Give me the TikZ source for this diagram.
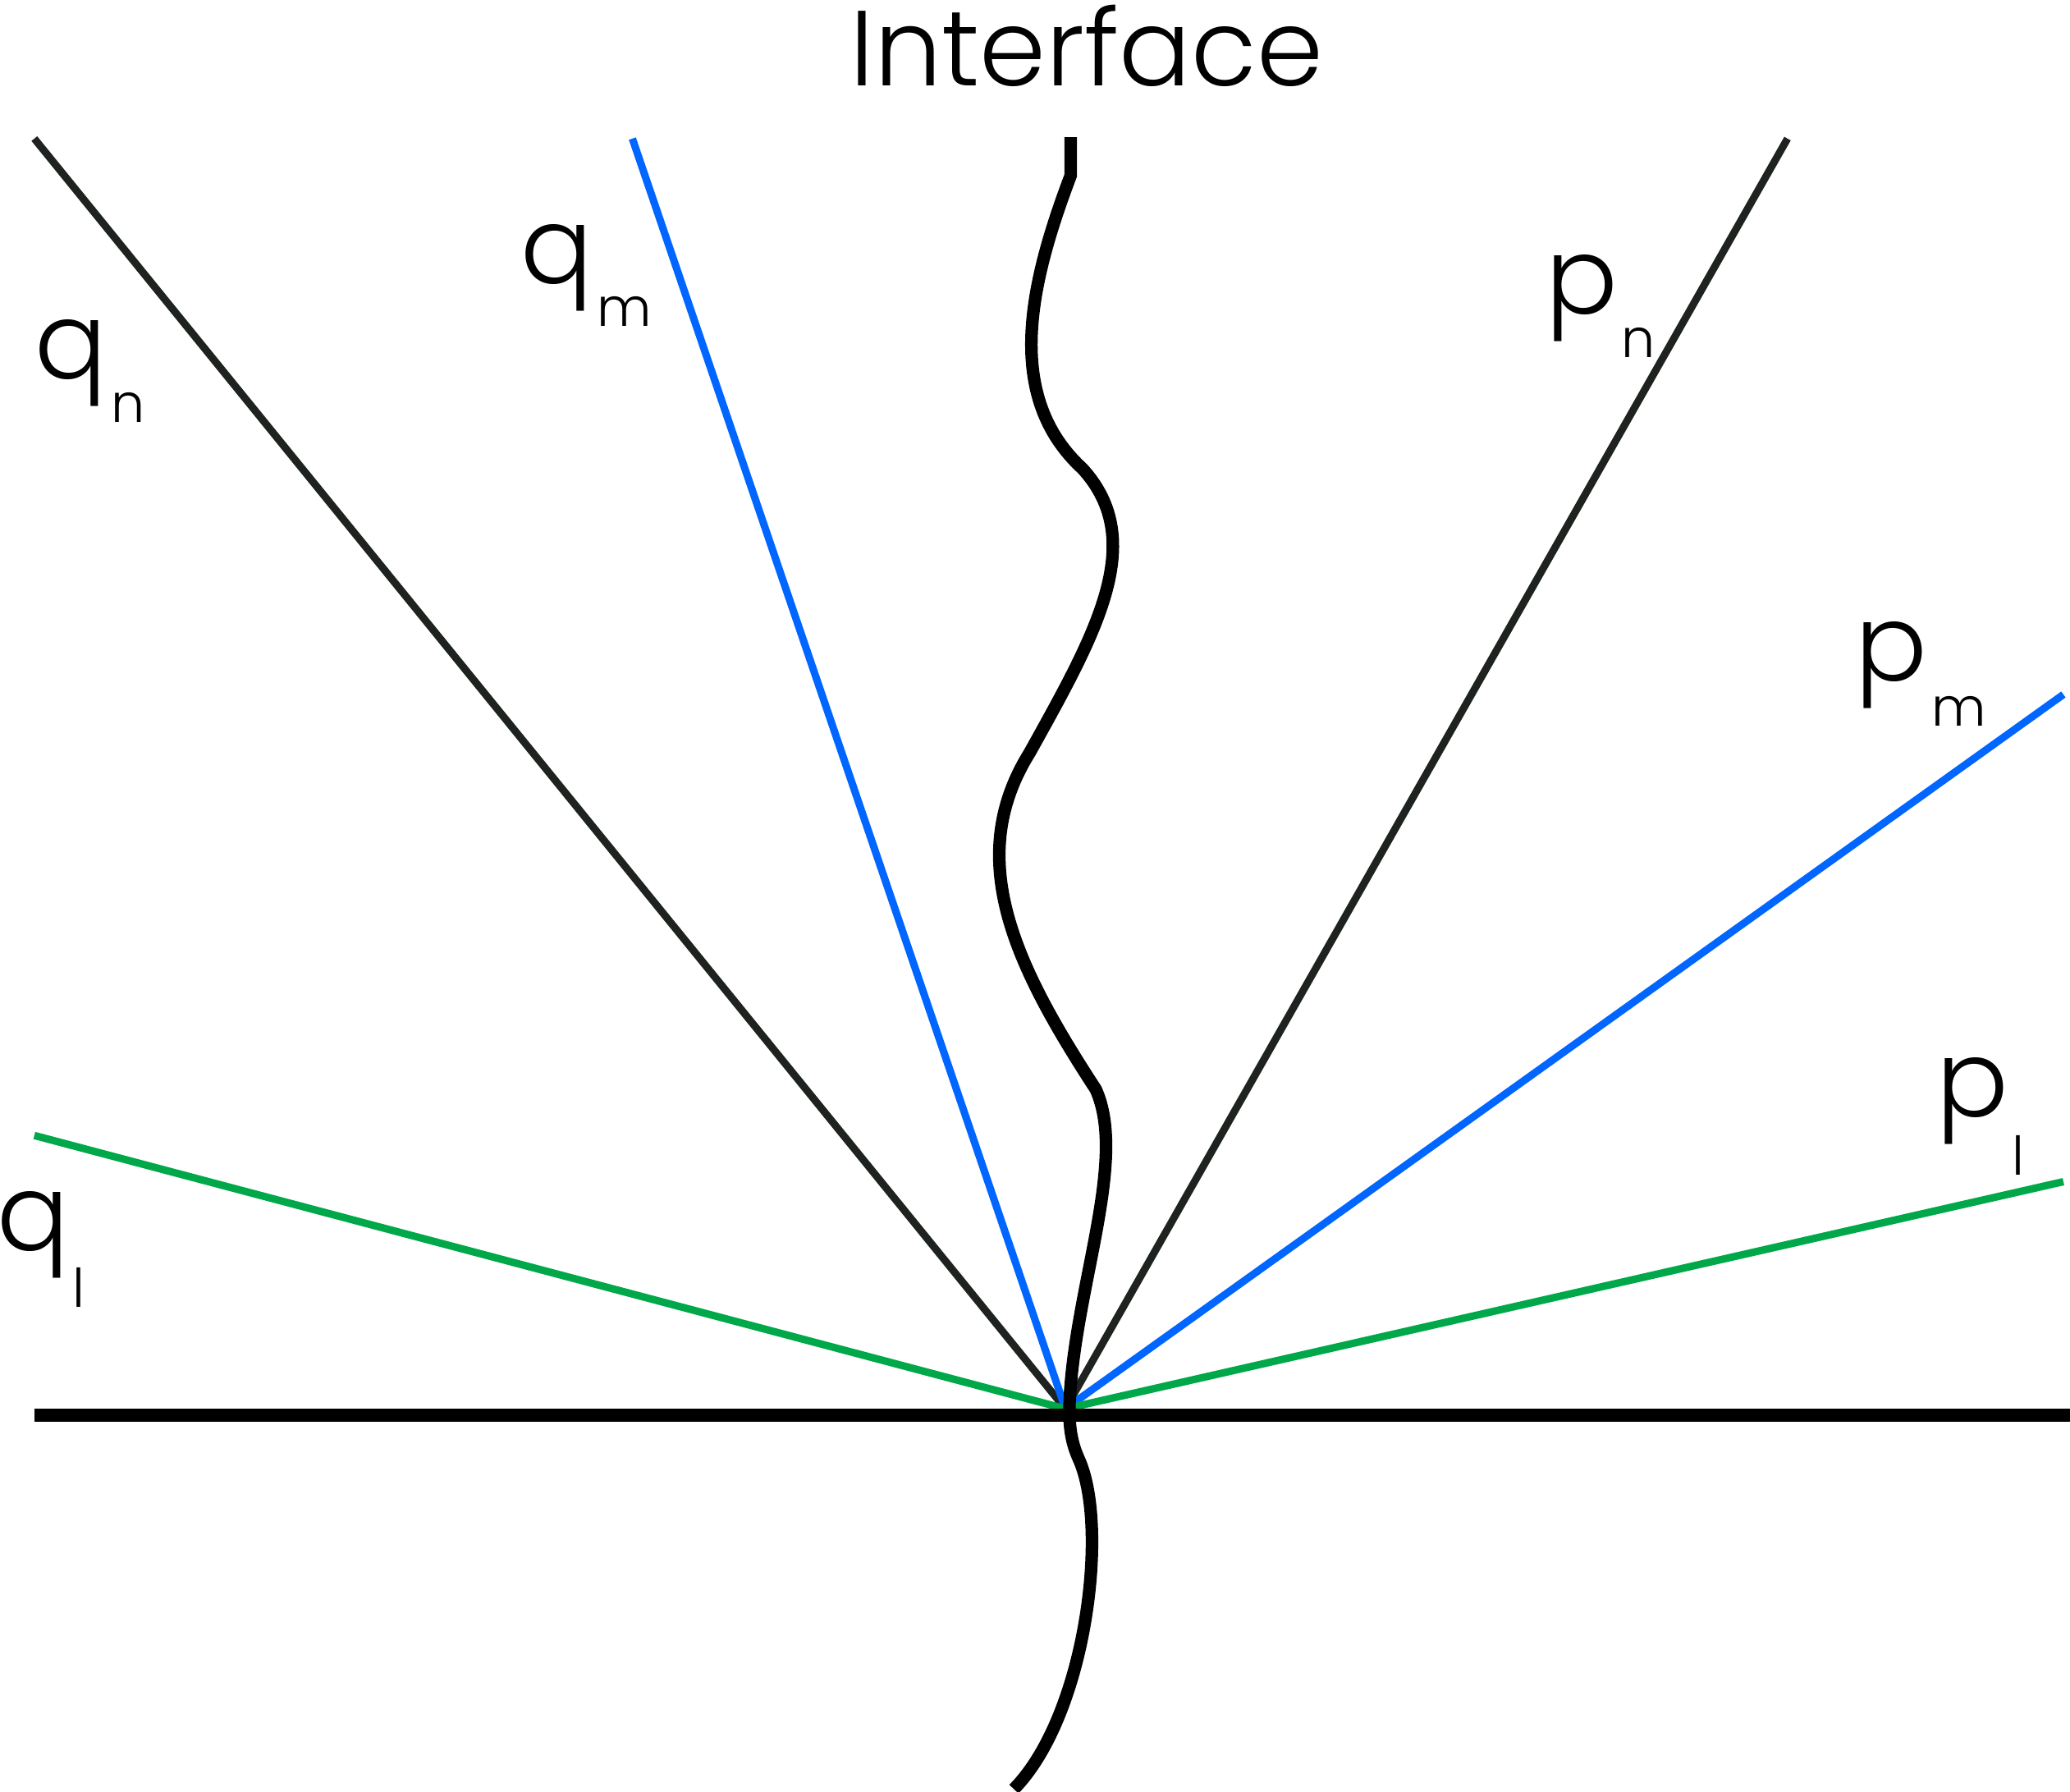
\documentclass[tikz,border=0pt]{standalone}
\usepackage{fontspec}
\setmainfont{Poppins Light}
\usepackage{xcolor}
\definecolor{raydark}{HTML}{1E231F}
\definecolor{rayblue}{HTML}{0066FF}
\definecolor{raygreen}{HTML}{00A84A}
\newcommand{\wvlabel}[3]{#1\hspace{0.03cm}\raisebox{-#3cm}{\fontsize{11.5pt}{12pt}\selectfont #2}}

\begin{document}
\begin{tikzpicture}[
  ray/.style={line width=1.6pt},
  wall/.style={line width=2.9pt},
  iface/.style={line width=2.7pt},
  lbl/.style={anchor=base west,inner sep=0pt,font=\fontsize{23pt}{26pt}\selectfont}
]
  \useasboundingbox (0,0) rectangle (15.68,13.57);
  \coordinate (O) at (8.07,2.90);
  \coordinate (qn) at (0.26,12.52);
  \coordinate (qm) at (4.79,12.52);
  \coordinate (pn) at (13.54,12.52);
  \coordinate (pm) at (15.63,8.31);
  \coordinate (pl) at (15.63,4.62);
  \coordinate (ql) at (0.26,4.97);
  \coordinate (wl) at (0.26,2.85);
  \coordinate (wr) at (15.68,2.85);
  \coordinate (it) at (8.11,12.53);
  \coordinate (ib) at (7.68,0.02);
  \node[lbl,anchor=base] (title) at (8.23,12.92) {Interface};
  \node[lbl] (lqn) at (0.26,10.70) {\wvlabel{q}{n}{0.33}};
  \node[lbl] (lqm) at (3.94,11.42) {\wvlabel{q}{m}{0.32}};
  \node[lbl] (lpn) at (11.70,11.19) {\wvlabel{p}{n}{0.33}};
  \node[lbl] (lpm) at (14.05,8.41) {\wvlabel{p}{m}{0.34}};
  \node[lbl] (lpl) at (14.66,5.11) {\wvlabel{p}{l}{0.44}};
  \node[lbl] (lql) at (-0.03,4.10) {\wvlabel{q}{l}{0.43}};
  \draw[ray,raydark] (O) -- (qn);
  \draw[ray,rayblue] (O) -- (qm);
  \draw[ray,raydark] (O) -- (pn);
  \draw[ray,rayblue] (O) -- (pm);
  \draw[ray,raygreen] (O) -- (pl);
  \draw[ray,raygreen] (O) -- (ql);
  \draw[wall] (wl) -- (wr);
  \draw[iface] (it) -- (8.11,12.24)
    .. controls (7.80,11.42) and (7.60,10.57) .. (8.20,10.02)
    .. controls (8.70,9.47) and (8.30,8.77) .. (7.80,7.87)
    .. controls (7.30,7.07) and (7.68,6.27) .. (8.30,5.32)
    .. controls (8.55,4.77) and (8.12,3.77) .. (8.10,2.89)
    .. controls (8.10,2.67) and (8.15,2.57) .. (8.18,2.50)
    .. controls (8.40,1.97) and (8.22,0.57) .. (ib);
\end{tikzpicture}
\end{document}
